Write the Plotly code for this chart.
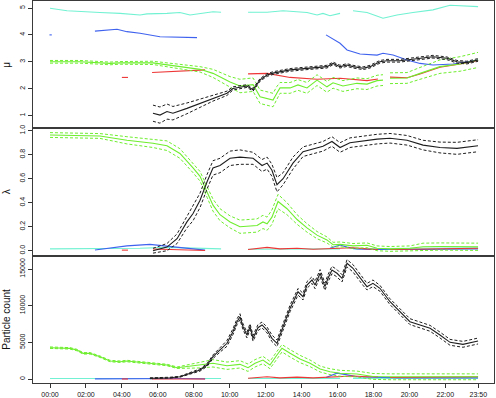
import plotly.graph_objects as go
from plotly.subplots import make_subplots

# ---- data (time in hours of the day)
# mu panel
mu_cyan = [([0, 0.95, 2.78, 3.9, 5.01, 5.4, 6.51, 7.23, 7.79, 8.35, 9.07, 9.52],
            [4.99, 4.9, 4.83, 4.8, 4.74, 4.78, 4.8, 4.83, 4.74, 4.8, 4.86, 4.84]),
           ([11.02, 12.08, 12.97, 14.3, 14.86, 15.19, 15.58, 16.14],
            [4.84, 4.84, 4.9, 4.83, 4.74, 4.8, 4.71, 4.8]),
           ([16.86, 17.64, 18.53, 19.31, 20.2, 21.31, 22.26, 23.2, 23.82],
            [4.9, 4.83, 4.62, 4.74, 4.83, 4.93, 5.1, 5.07, 5.05])]
mu_blue = [([-0.03, 0.1], [4.0, 4.0]),
           ([2.5, 3.73, 4.28, 5.01, 6.12, 7.23, 8.18],
            [4.14, 4.21, 4.12, 4.06, 3.93, 3.91, 3.9]),
           ([15.36, 16.14, 16.53, 17.25, 18.2, 18.53, 19.09, 19.87, 20.59, 21.31, 22.43, 23.82],
            [4.0, 3.69, 3.44, 3.29, 3.25, 3.32, 3.25, 3.07, 2.94, 2.88, 2.92, 3.07])]
mu_red = [([4.0, 4.34], [2.42, 2.42]),
          ([5.68, 7.23, 8.63], [2.6, 2.66, 2.7]),
          ([11.02, 12.08, 13.36, 14.86, 16.14, 17.64, 18.25],
           [2.55, 2.57, 2.42, 2.35, 2.39, 2.3, 2.36]),
          ([18.92, 19.87, 20.59, 21.7, 22.82, 23.82],
           [2.43, 2.41, 2.55, 2.8, 2.92, 3.05])]
mu_green = [([0, 1.67, 3.34, 3.9, 5.73, 7.23, 8.35, 9.07, 10.02, 10.57, 11.3, 11.69, 12.41,
              12.63, 12.8, 13.36, 13.8, 14.3, 14.86, 15.41, 15.75, 16.3, 17.08, 17.64, 18.2, 18.53],
             [3.0, 3.0, 2.94, 2.96, 2.96, 2.81, 2.72, 2.57, 2.25, 2.1, 2.15, 1.7, 1.58,
              1.84, 2.03, 2.03, 2.14, 2.03, 2.32, 2.07, 2.22, 2.1, 2.2, 2.17, 2.3, 2.32],
             [0.05, 0.05, 0.05, 0.05, 0.06, 0.08, 0.1, 0.15, 0.2, 0.25, 0.25, 0.25, 0.25,
              0.25, 0.2, 0.2, 0.2, 0.2, 0.2, 0.2, 0.2, 0.2, 0.2, 0.2, 0.2, 0.2]),
            ([18.92, 19.87, 20.59, 21.7, 22.82, 23.82],
             [2.39, 2.4, 2.57, 2.82, 2.92, 3.07],
             [0.2, 0.2, 0.22, 0.25, 0.27, 0.28])]
mu_black = [([5.73, 6.12, 6.51, 6.84, 7.62, 8.35, 9.07, 9.85, 10.18, 10.96, 11.3, 11.69, 12.08,
              12.41, 13.36, 14.3, 15.41, 15.75, 16.14, 16.53, 16.86, 17.42, 17.81, 18.36, 18.75,
              19.48, 20.59, 21.31, 22.09, 22.65, 23.2, 23.82],
             [1.09, 1.02, 1.15, 1.09, 1.27, 1.46, 1.64, 1.83, 2.01, 2.1, 1.96, 2.33, 2.51,
              2.58, 2.7, 2.76, 2.82, 2.94, 2.82, 2.88, 2.82, 2.76, 2.82, 3.0, 3.04,
              3.04, 3.13, 3.19, 3.13, 3.0, 2.97, 3.07],
             [0.3, 0.3, 0.28, 0.25, 0.2, 0.15, 0.1, 0.08, 0.06, 0.05, 0.05, 0.05, 0.05,
              0.05, 0.05, 0.05, 0.05, 0.05, 0.05, 0.05, 0.05, 0.05, 0.05, 0.05, 0.05,
              0.05, 0.05, 0.05, 0.05, 0.05, 0.05, 0.05])]

# lambda panel
lam_cyan = [([0, 2.78, 5.01, 6.51, 7.79, 9.52], [0.015, 0.015, 0.02, 0.028, 0.02, 0.015]),
            ([11.02, 13.36, 16.14], [0.012, 0.012, 0.015]),
            ([16.86, 19.31, 21.31, 23.82], [0.015, 0.02, 0.025, 0.025])]
lam_blue = [([2.5, 3.34, 4.28, 5.56, 6.12, 7.23, 7.96, 8.63],
             [0.006, 0.02, 0.04, 0.053, 0.045, 0.025, 0.015, 0.005]),
            ([15.58, 16.14, 16.53, 17.08, 17.97, 18.92, 20.59, 23.82],
             [0.02, 0.047, 0.03, 0.014, 0.01, 0.008, 0.01, 0.015])]
lam_red = [([4.0, 4.34], [0.005, 0.005]),
           ([5.73, 7.23, 8.63], [0.014, 0.01, 0.002]),
           ([11.02, 12.08, 12.8, 13.75, 14.64, 15.75, 16.86, 17.64, 18.25],
            [0.01, 0.028, 0.015, 0.02, 0.012, 0.02, 0.025, 0.015, 0.01]),
           ([18.92, 20.59, 23.82], [0.01, 0.015, 0.02])]
lam_green = [([0, 2.78, 4.28, 5.73, 6.51, 7.23, 7.96, 8.35, 8.74, 9.07, 9.46, 10.02, 10.57,
               11.52, 11.85, 12.08, 12.35, 12.69, 13.19, 13.75, 14.3, 14.86, 15.41, 15.75,
               16.14, 16.86, 17.64, 18.2, 18.92, 20.03, 20.76, 21.7, 23.82],
              [0.964, 0.956, 0.92, 0.895, 0.875, 0.81, 0.69, 0.62, 0.49, 0.38, 0.30, 0.24, 0.2,
               0.21, 0.24, 0.225, 0.28, 0.41, 0.35, 0.26, 0.19, 0.13, 0.09, 0.05,
               0.053, 0.04, 0.045, 0.02, 0.015, 0.02, 0.033, 0.035, 0.033],
              [0.02, 0.02, 0.03, 0.035, 0.04, 0.04, 0.04, 0.04, 0.045, 0.05, 0.05, 0.05, 0.055,
               0.055, 0.055, 0.055, 0.06, 0.06, 0.05, 0.04, 0.035, 0.03, 0.025, 0.02,
               0.02, 0.02, 0.02, 0.02, 0.02, 0.02, 0.03, 0.03, 0.03])]
lam_black = [([5.73, 6.51, 7.07, 7.62, 7.96, 8.35, 8.74, 9.07, 9.46, 10.02, 10.57, 11.3, 11.8,
               12.08, 12.35, 12.63, 12.97, 13.52, 14.08, 14.64, 15.19, 15.69, 16.14, 16.69,
               17.42, 18.2, 18.92, 19.87, 20.76, 21.7, 22.65, 23.82],
              [0.0, 0.03, 0.1, 0.24, 0.31, 0.42, 0.575, 0.69, 0.71, 0.77, 0.78, 0.77, 0.71,
               0.73, 0.67, 0.55, 0.6, 0.73, 0.825, 0.85, 0.87, 0.91, 0.86, 0.9,
               0.914, 0.93, 0.937, 0.92, 0.88, 0.86, 0.853, 0.875],
              [0.02, 0.03, 0.04, 0.05, 0.06, 0.06, 0.06, 0.06, 0.06, 0.06, 0.06, 0.05, 0.05,
               0.05, 0.05, 0.06, 0.05, 0.05, 0.04, 0.04, 0.04, 0.04, 0.04, 0.04,
               0.04, 0.04, 0.04, 0.04, 0.04, 0.045, 0.05, 0.05])]

# particle count panel
pc_cyan = [([0, 4.0, 9.52], [60, 60, 60]),
           ([11.02, 16.14], [60, 80]),
           ([16.86, 20.0, 23.82], [80, 100, 100])]
pc_blue = [([2.5, 4.28, 5.56, 7.23, 8.63], [20, 60, 100, 60, 20]),
           ([15.36, 15.97, 16.47, 17.08, 17.97, 19.48, 23.82], [200, 800, 600, 300, 250, 150, 150])]
pc_red = [([4.0, 4.34], [0, 0]),
          ([5.68, 7.23, 8.63], [0, 20, 0]),
          ([11.02, 12.08, 12.8, 13.75, 14.64, 15.75, 16.86, 17.64, 18.25],
           [100, 300, 150, 250, 150, 300, 400, 300, 300]),
          ([18.92, 20.59, 23.82], [200, 250, 300])]
pc_green = [([0, 1.11, 1.5, 1.84, 2.23, 2.78, 3.34, 3.9, 4.28, 5.01, 5.73, 6.51, 7.07, 7.62,
              8.35, 9.07, 9.85, 10.57, 11.02, 11.41, 11.85, 12.24, 12.63, 12.91, 13.36, 13.91,
              14.47, 15.03, 15.58, 16.14, 17.08, 17.97, 18.92, 20.59, 22.26, 23.82],
             [4270, 4180, 3950, 3500, 3500, 3040, 2450, 2360, 2450, 2270, 2140, 1910, 1540, 1680,
              1910, 2140, 1810, 2000, 1540, 2140, 2590, 1910, 3270, 4190, 3500, 2730,
              2140, 1360, 1000, 780, 680, 350, 300, 300, 300, 300],
             [100, 100, 100, 100, 100, 100, 100, 100, 100, 100, 100, 100, 100, 250,
              400, 500, 500, 500, 500, 500, 500, 500, 500, 500, 500, 500,
              450, 400, 400, 400, 400, 400, 400, 400, 400, 400])]
pc_black = [([5.56, 6.12, 6.68, 7.23, 7.79, 8.35, 8.74, 9.07, 9.46, 9.85,
              10.18, 10.41, 10.57, 10.74, 10.96, 11.13, 11.3, 11.57, 11.8, 12.08,
              12.35, 12.63, 12.8, 13.08, 13.36, 13.63, 13.8, 14.08, 14.3, 14.58,
              14.75, 15.03, 15.3, 15.47, 15.69, 15.97, 16.25, 16.53, 16.86, 17.42,
              17.64, 17.97, 18.36, 18.92, 19.48, 20.03, 20.59, 21.15, 21.7, 22.26,
              22.98, 23.54, 23.82],
             [100, 120, 180, 310, 780, 1230, 1910, 3040, 3960, 4870,
              6450, 7820, 8500, 7130, 6000, 7130, 5550, 7000, 7370, 6680,
              5550, 4870, 6000, 7820, 9640, 11000, 11900, 11230, 12820, 13500,
              12820, 14420, 12590, 13730, 14870, 14420, 13730, 15780, 15100, 13270,
              12590, 13050, 12370, 10540, 9180, 7820, 7370, 6910, 6000, 5000,
              4730, 5090, 5180],
             [60, 60, 60, 60, 120, 150, 200, 250, 300, 400,
              400, 400, 400, 400, 400, 400, 400, 400, 400, 400,
              450, 450, 450, 450, 450, 450, 450, 450, 450, 450,
              500, 500, 500, 500, 500, 500, 500, 500, 500, 500,
              450, 450, 400, 400, 400, 400, 400, 400, 400, 400,
              400, 400, 400])]

tick_hours = [0, 2, 4, 6, 8, 10, 12, 14, 16, 18, 20, 22, 23 + 50 / 60]
tick_text = ["00:00", "02:00", "04:00", "06:00", "08:00", "10:00", "12:00",
             "14:00", "16:00", "18:00", "20:00", "22:00", "23:50"]

CYAN = "#72F2D2"
BLUE = "#3F62EE"
RED = "#EE3636"
GREEN = "#6EEE2E"
BLACK = "#1E1E1E"

fig = make_subplots(rows=3, cols=1, shared_xaxes=True, vertical_spacing=0)


def add_plain(segs, color, row):
    for h, v in segs:
        fig.add_trace(go.Scatter(x=h, y=v, mode="lines", line=dict(color=color, width=1.1),
                                 showlegend=False, hoverinfo="skip"), row=row, col=1)


def add_ci(segs, color, row):
    for h, v, ci in segs:
        up = [a + b for a, b in zip(v, ci)]
        lo = [a - b for a, b in zip(v, ci)]
        for band in (up, lo):
            fig.add_trace(go.Scatter(x=h, y=band, mode="lines",
                                     line=dict(color=color, width=1, dash="3px,2px"),
                                     showlegend=False, hoverinfo="skip"), row=row, col=1)
        fig.add_trace(go.Scatter(x=h, y=v, mode="lines", line=dict(color=color, width=1.1),
                                 showlegend=False, hoverinfo="skip"), row=row, col=1)


for row, (c, b, r, g, k) in enumerate([(mu_cyan, mu_blue, mu_red, mu_green, mu_black),
                                        (lam_cyan, lam_blue, lam_red, lam_green, lam_black),
                                        (pc_cyan, pc_blue, pc_red, pc_green, pc_black)], start=1):
    add_plain(c, CYAN, row)
    add_plain(b, BLUE, row)
    add_plain(r, RED, row)
    add_ci(g, GREEN, row)
    add_ci(k, BLACK, row)

H = 382.0
domains = [[255 / H, 1.0], [127 / H, 255 / H], [0.0, 127 / H]]
yranges = [[0.54, 5.26], [-0.044, 1.0225], [-545, 16773]]
ytv = [[1, 2, 3, 4, 5], [0, 0.2, 0.4, 0.6, 0.8, 1.0], [0, 5000, 10000, 15000]]
ytt = [["1", "2", "3", "4", "5"], ["0.0", "0.2", "0.4", "0.6", "0.8", "1.0"],
       ["0", "5000", "10000", "15000"]]

tick_font = dict(family="Liberation Sans, Arial, sans-serif", size=7, color="#111")
for i in range(3):
    fig.update_yaxes(domain=domains[i], range=yranges[i], tickvals=ytv[i], ticktext=ytt[i],
                     tickangle=-90, ticks="outside", ticklen=4, tickcolor="#333",
                     tickfont=tick_font, showgrid=False, zeroline=False, automargin=False,
                     showline=True, linecolor="#3a3a3a", linewidth=1.3, mirror=True,
                     row=i + 1, col=1)
    fig.update_xaxes(range=[-0.946, 24.707], showgrid=False, zeroline=False, automargin=False,
                     showline=True, linecolor="#3a3a3a", linewidth=1.3, mirror=True,
                     row=i + 1, col=1)
fig.update_xaxes(tickvals=tick_hours, ticktext=tick_text, ticks="outside", ticklen=4,
                 tickcolor="#333", tickfont=tick_font, row=3, col=1)

lab_font = dict(family="Liberation Sans, Arial, sans-serif", size=10, color="#111")
for txt, yc in [("μ", (domains[0][0] + domains[0][1]) / 2),
                ("λ", (domains[1][0] + domains[1][1]) / 2),
                ("Particle count", (domains[2][0] + domains[2][1]) / 2)]:
    fig.add_annotation(text=txt, xref="paper", yref="paper", x=-0.058, y=yc,
                       xanchor="center", yanchor="middle", borderpad=0,
                       showarrow=False, textangle=-90, font=lab_font)

fig.update_layout(width=496, height=398,
                  margin=dict(l=33, r=2, t=1, b=15, autoexpand=False),
                  plot_bgcolor="white", paper_bgcolor="white")

# drop the page's default body margin so the figure sits at the window's corner
fig.write_html("out.html", config={"displayModeBar": False},
               post_script="document.body.style.margin='0';document.body.style.overflow='hidden';")
